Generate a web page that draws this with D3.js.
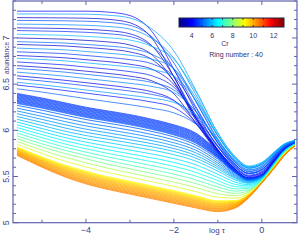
<!DOCTYPE html>
<html>
<head>
<meta charset="utf-8">
<script src="https://cdn.jsdelivr.net/npm/d3@7"></script>
<style>
html, body { margin: 0; padding: 0; background: #fff; }
svg { display: block; font-family: "Liberation Sans", Arial, sans-serif; }
</style>
</head>
<body>
<div class="chart"></div>
<script>
const profileX = [-5.57, -5, -4.5, -4, -3.5, -3, -2.5, -2, -1.5, -1, -0.6, -0.3, 0, 0.3, 0.5, 0.75];

// reference profiles (abundance at profileX)
const topEarly  = [7.29, 7.29, 7.29, 7.29, 7.28, 7.24, 7.05, 6.58, 6.12, 5.77, 5.56, 5.46, 5.50, 5.67, 5.78, 5.85];
const topLate   = [7.29, 7.29, 7.29, 7.29, 7.28, 7.25, 7.13, 6.90, 6.47, 5.99, 5.72, 5.62, 5.66, 5.78, 5.85, 5.89];
const midEarly  = [6.85, 6.84, 6.83, 6.81, 6.79, 6.76, 6.70, 6.50, 6.10, 5.76, 5.55, 5.46, 5.50, 5.67, 5.78, 5.85];
const midLate   = [6.85, 6.84, 6.83, 6.81, 6.79, 6.77, 6.74, 6.67, 6.38, 5.96, 5.71, 5.61, 5.65, 5.77, 5.85, 5.89];
const lowEarly  = [6.47, 6.44, 6.41, 6.38, 6.35, 6.32, 6.28, 6.22, 6.02, 5.73, 5.54, 5.46, 5.50, 5.67, 5.78, 5.85];
const lowLate   = [6.47, 6.44, 6.41, 6.38, 6.35, 6.32, 6.29, 6.25, 6.15, 5.90, 5.68, 5.60, 5.64, 5.76, 5.84, 5.89];
const bandTop   = [6.40, 6.35, 6.30, 6.25, 6.21, 6.17, 6.12, 6.06, 5.97, 5.77, 5.57, 5.48, 5.51, 5.67, 5.78, 5.85];
const bandBot   = [6.29, 6.24, 6.19, 6.14, 6.10, 6.06, 6.01, 5.95, 5.86, 5.70, 5.54, 5.47, 5.50, 5.66, 5.78, 5.85];
const skyLine   = [6.10, 6.03, 5.97, 5.92, 5.88, 5.84, 5.80, 5.75, 5.68, 5.57, 5.47, 5.43, 5.48, 5.65, 5.77, 5.85];
const greenLine = [5.90, 5.81, 5.74, 5.68, 5.62, 5.57, 5.52, 5.47, 5.41, 5.34, 5.31, 5.34, 5.45, 5.63, 5.75, 5.84];
const orangeLow = [5.73, 5.60, 5.50, 5.42, 5.36, 5.31, 5.26, 5.21, 5.16, 5.12, 5.16, 5.27, 5.43, 5.60, 5.72, 5.83];

const keyLevel = [7.29, 6.85, 6.47, 6.40, 6.29, 6.10, 5.90, 5.73];
const keyEarly = [topEarly, midEarly, lowEarly, bandTop, bandBot, skyLine, greenLine, orangeLow];
const keyLate  = [topLate, midLate, lowLate, bandTop, bandBot, skyLine, greenLine, orangeLow];

// every drawn curve: starting abundance at the left edge and its Cr value (colour)
const lineLevel = [
  7.29, 7.26, 7.22, 7.19, 7.15, 7.11, 7.08, 7.04, 7.00, 6.96, 6.93, 6.89,
  6.85, 6.81, 6.78, 6.74, 6.70, 6.67, 6.63, 6.59, 6.56, 6.52, 6.49, 6.45,
  6.40, 6.392, 6.383, 6.375, 6.366, 6.358, 6.349, 6.341, 6.332, 6.324,
  6.315, 6.307, 6.298, 6.290,
  6.27, 6.24, 6.21, 6.18, 6.15, 6.12, 6.09, 6.06, 6.03, 6.00, 5.97, 5.94,
  5.91, 5.88, 5.85,
  5.82, 5.814, 5.808, 5.802, 5.796, 5.79, 5.784, 5.778, 5.772,
  5.766, 5.76, 5.754, 5.748, 5.742, 5.736, 5.73
];
const lineCr = [
  4.0, 5.6, 3.5, 4.8, 5.4, 3.7, 4.5, 5.9, 3.4, 5.1, 3.6, 5.5,
  4.6, 3.8, 5.7, 4.3, 3.5, 5.0, 5.3, 3.9, 4.7, 5.6, 4.2, 5.0,
  4.5, 4.7, 4.4, 4.8, 4.6, 4.5, 4.9, 4.6, 4.7, 4.5,
  4.8, 4.6, 4.7, 4.9,
  5.0, 5.2, 5.4, 5.6, 5.7, 5.9, 6.1, 6.3, 6.5, 6.8, 7.1, 7.4,
  7.8, 8.3, 8.8,
  9.2, 9.35, 9.5, 9.6, 9.7, 9.8, 9.9, 9.95, 10.0,
  10.05, 10.1, 10.15, 10.2, 10.25, 10.3, 10.4
];

const xTicks = [-5, -4, -3, -2, -1, 0];
const xLabels = [-4, -2, 0];
const yMajor = [5, 5.5, 6, 6.5, 7];
const yMinor = d3.range(50, 75).map(d => d / 10);
const cbTicks = [4, 6, 8, 10, 12];
const cbMinor = [3, 4, 5, 6, 7, 8, 9, 10, 11, 12];

const w = 300;
const h = 240;
const axisColor = '#6262ae';
const textColor = '#40408c';

const svg = d3.select('.chart')
  .append('svg')
  .attr('width', w)
  .attr('height', h);

const x = d3.scaleLinear().domain([-5.66, 0.80]).range([13, 297]);
const y = d3.scaleLinear().domain([5, 7.40]).range([222.7, 1]);

// jet colour table over the Cr range of the colour bar
const crDomain = [2.75, 13];
const jetStops = ['#00007f', '#0000ff', '#00ffff', '#ffff00', '#ff0000', '#7f0000'];
const jetPos = [0, 0.125, 0.375, 0.625, 0.875, 1];
const color = d3.scaleLinear()
  .domain(jetPos.map(p => crDomain[0] + p * (crDomain[1] - crDomain[0])))
  .range(jetStops);

function curveFor(level, cr) {
  let i = 0;
  while (i < keyLevel.length - 2 && level < keyLevel[i + 1]) i++;
  const t = Math.max(0, Math.min(1, (keyLevel[i] - level) / (keyLevel[i] - keyLevel[i + 1])));
  const wl = Math.max(0, Math.min(1, (cr - 3.4) / 2.4));
  return profileX.map((_, k) => {
    const e = keyEarly[i][k] + (keyEarly[i + 1][k] - keyEarly[i][k]) * t;
    const l = keyLate[i][k] + (keyLate[i + 1][k] - keyLate[i][k]) * t;
    return e + (l - e) * wl;
  });
}

const lines = lineLevel.map((lv, j) => ({ lv, cr: lineCr[j], values: curveFor(lv, lineCr[j]) }));

const line = d3.line()
  .x((d, i) => x(profileX[i]))
  .y(d => y(d))
  .curve(d3.curveMonotoneX);

svg.append('g')
  .selectAll('path')
  .data(lines)
  .enter()
  .append('path')
  .attr('d', d => line(d.values))
  .attr('fill', 'none')
  .attr('stroke', d => color(d.cr))
  .attr('stroke-width', d => (d.lv > 6.28 ? 0.7 : 0.8));

// frame and ticks
const axes = svg.append('g').attr('stroke', axisColor).attr('fill', 'none');
axes.append('rect')
  .attr('x', x.range()[0]).attr('y', y.range()[1])
  .attr('width', x.range()[1] - x.range()[0])
  .attr('height', y.range()[0] - y.range()[1])
  .attr('stroke-width', 1.2);

const xt = xTicks.map(v => ({ v, len: xLabels.includes(v) ? 4 : 3 }));
axes.selectAll('.xb').data(xt).enter().append('line')
  .attr('x1', d => x(d.v)).attr('x2', d => x(d.v))
  .attr('y1', y(5)).attr('y2', d => y(5) - d.len);
axes.selectAll('.xt').data(xt).enter().append('line')
  .attr('x1', d => x(d.v)).attr('x2', d => x(d.v))
  .attr('y1', y.range()[1]).attr('y2', d => y.range()[1] + d.len);

const yt = yMinor.map(v => ({ v, len: yMajor.some(m => Math.abs(m - v) < 1e-6) ? 5 : 3 }));
axes.selectAll('.yl').data(yt).enter().append('line')
  .attr('y1', d => y(d.v)).attr('y2', d => y(d.v))
  .attr('x1', x.range()[0]).attr('x2', d => x.range()[0] + d.len);
axes.selectAll('.yr').data(yt).enter().append('line')
  .attr('y1', d => y(d.v)).attr('y2', d => y(d.v))
  .attr('x1', x.range()[1]).attr('x2', d => x.range()[1] - d.len);

const fmtX = d3.format('d');
svg.append('g')
  .selectAll('text')
  .data(xLabels)
  .enter()
  .append('text')
  .attr('x', d => x(d))
  .attr('y', 233)
  .attr('text-anchor', 'middle')
  .attr('font-size', 9)
  .attr('fill', textColor)
  .text(d => fmtX(d));

svg.append('text')
  .attr('x', 217).attr('y', 233)
  .attr('text-anchor', 'middle')
  .attr('font-size', 8)
  .attr('fill', textColor)
  .text('log τ');

svg.append('g')
  .selectAll('text')
  .data(yMajor)
  .enter()
  .append('text')
  .attr('transform', d => 'translate(9,' + y(d) + ') rotate(-90)')
  .attr('text-anchor', 'middle')
  .attr('font-size', 9)
  .attr('fill', textColor)
  .text(d => d);

svg.append('text')
  .attr('transform', 'translate(9,58) rotate(-90)')
  .attr('text-anchor', 'middle')
  .attr('font-size', 6.5)
  .attr('fill', textColor)
  .text('abundance');

// colour bar
const cb = d3.scaleLinear().domain(crDomain).range([179, 284]);
const defs = svg.append('defs');
const grad = defs.append('linearGradient').attr('id', 'jet');
grad.selectAll('stop')
  .data(jetPos)
  .enter()
  .append('stop')
  .attr('offset', d => (d * 100) + '%')
  .attr('stop-color', (d, i) => jetStops[i]);

svg.append('rect')
  .attr('x', cb.range()[0]).attr('y', 18)
  .attr('width', cb.range()[1] - cb.range()[0]).attr('height', 9)
  .attr('fill', 'url(#jet)')
  .attr('stroke', '#22224a')
  .attr('stroke-width', 1);

svg.append('g')
  .selectAll('line')
  .data(cbMinor)
  .enter()
  .append('line')
  .attr('x1', d => cb(d)).attr('x2', d => cb(d))
  .attr('y1', 25).attr('y2', 27)
  .attr('stroke', '#22224a')
  .attr('stroke-width', 0.8);

svg.append('g')
  .selectAll('line')
  .data(cbMinor)
  .enter()
  .append('line')
  .attr('x1', d => cb(d)).attr('x2', d => cb(d))
  .attr('y1', 18).attr('y2', 20)
  .attr('stroke', '#22224a')
  .attr('stroke-width', 0.8);

svg.append('g')
  .selectAll('text')
  .data(cbTicks)
  .enter()
  .append('text')
  .attr('x', d => cb(d))
  .attr('y', 38)
  .attr('text-anchor', 'middle')
  .attr('font-size', 7)
  .attr('fill', '#33336a')
  .text(d => d);

svg.append('text')
  .attr('x', 225).attr('y', 46)
  .attr('text-anchor', 'middle')
  .attr('font-size', 7)
  .attr('fill', '#33336a')
  .text('Cr');

svg.append('text')
  .attr('x', 236).attr('y', 57)
  .attr('text-anchor', 'middle')
  .attr('font-size', 7)
  .attr('fill', '#33336a')
  .text('Ring number : 40');
</script>
</body>
</html>
